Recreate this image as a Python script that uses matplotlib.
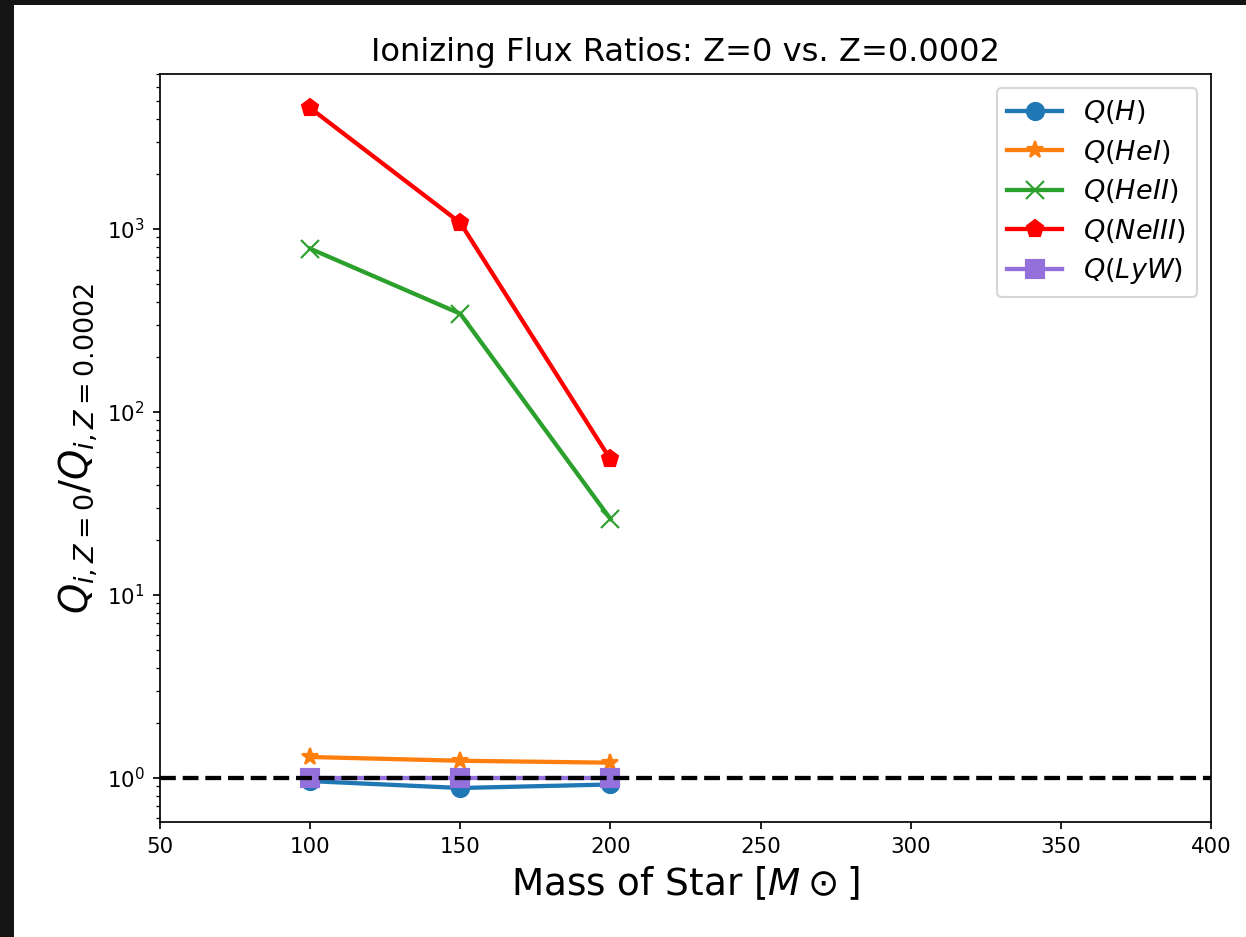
"""
Ionizing flux ratios Z=0 vs Z=0.0002 for massive stars.
"""

import matplotlib.pyplot as plt
from matplotlib.patches import Rectangle

# --- data ---
masses = [100, 150, 200]
q_h = [0.96, 0.88, 0.92]
q_hei = [1.30, 1.24, 1.21]
q_heii = [780, 344, 26]
q_neiii = [4580, 1080, 55]
q_lyw = [1.0, 1.0, 1.0]

labels = [r"$Q(H)$", r"$Q(HeI)$", r"$Q(HeII)$", r"$Q(NeIII)$", r"$Q(LyW)$"]
series = [q_h, q_hei, q_heii, q_neiii, q_lyw]
colors = ["C0", "C1", "C2", "red", "mediumpurple"]
markers = ["o", "*", "x", "p", "s"]

DPI = 154
fig = plt.figure(figsize=(1246 / DPI, 937 / DPI), dpi=DPI, facecolor="#141414")
# white figure area (screenshot has a dark frame at left/top)
fig.patches.append(Rectangle((14 / 1246, 0), 1 - 14 / 1246, 1 - 5 / 937,
                             transform=fig.transFigure, facecolor="white",
                             edgecolor="none", zorder=-10))

ax = fig.add_axes([160 / 1246, 115 / 937, 1051 / 1246, 748 / 937])

for vals, lab, col, mk in zip(series, labels, colors, markers):
    ax.plot(masses, vals, marker=mk, color=col, label=lab, lw=2, ms=8)

ax.axhline(1.0, color="black", ls="--", lw=2)

ax.set_yscale("log")
ax.set_xlim(50, 400)
ax.set_title("Ionizing Flux Ratios: Z=0 vs. Z=0.0002", fontsize=15)
ax.set_xlabel(r"Mass of Star [$M\odot$]", fontsize=17.5)
ax.set_ylabel(r"$Q_{i,Z=0}/Q_{i,Z=0.0002}$", fontsize=18)
ax.legend(loc="upper right", fontsize=12.7, labelspacing=0.42)

fig.savefig("out.png", dpi=DPI)
